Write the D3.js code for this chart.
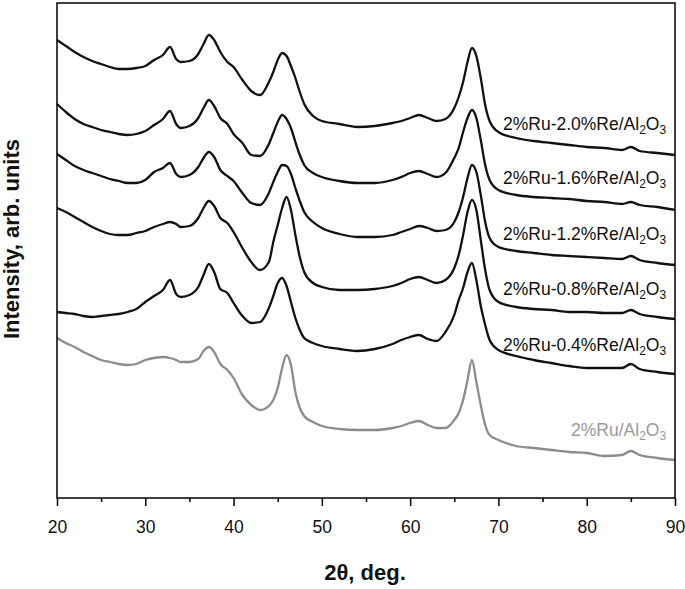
<!DOCTYPE html>
<html>
<head>
<meta charset="utf-8">
<script src="https://cdn.jsdelivr.net/npm/d3@7"></script>
<style>
  body { margin: 0; background: #fff; }
  svg text { font-family: "Liberation Sans", Arial, sans-serif; }
</style>
</head>
<body>
<svg id="chart" width="685" height="589"></svg>
<script>
// 2theta grid (deg.)
var angles = [20,21,22,23,24,25,26,27,28,29,30,31,32,32.8,33.5,34,35,36,36.6,37.2,37.8,38.5,39.3,40,
  41,42,43,44,44.5,45,45.5,46,46.5,47,47.5,48,49,50,52,54,56,58,59,60,61,62,63,64,65,65.5,66,66.5,67,
  67.5,68,68.5,69,70,72,74,76,78,80,82,84,85,86,88,90];

// intensities, arb. units (curves already offset as in the figure)
var ru_re20 = [458,452,446,441,437,434,431,429,429,430,432,438,443,451,439,436,437,444,454,463,458,446,436,431,
  418,407,403,416,426,438,445,442,432,420,406,394,382,377,374,371,372,375,377,380,383,380,377,379,390,401,416,436,450,
  442,420,393,377,366,360,357,355,353,351,350,348,351,347,345,343];
var ru_re16 = [394,386,379,374,371,368,366,364,363,364,367,373,379,387,374,370,372,380,390,398,392,380,374,364,
  355,343,342,354,365,376,383,379,370,356,343,333,325,321,317,315,315,318,321,325,327,324,321,325,340,350,366,380,388,
  380,358,333,318,308,303,301,300,299,297,296,294,296,293,291,288];
var ru_re12 = [344,338,332,328,325,322,319,317,315,315,318,326,330,335,324,321,323,331,340,346,341,328,322,317,
  305,295,293,305,316,326,333,332,324,310,297,286,276,270,264,261,261,263,266,269,272,270,267,268,276,286,301,320,333,
  326,303,276,260,251,247,245,243,242,241,240,239,242,238,235,233];
var ru_re08 = [290,286,281,276,271,267,264,263,263,265,267,271,274,276,274,271,272,280,290,297,292,280,275,266,
  250,236,228,236,256,273,290,301,288,263,241,226,215,211,208,208,209,212,215,219,221,218,215,218,230,243,263,286,298,
  288,258,228,208,196,191,189,188,186,186,185,185,188,184,181,179];
var ru_re04 = [186,185,184,182,181,182,183,184,186,189,196,202,208,218,204,201,203,211,223,234,226,209,205,195,
  182,175,176,190,202,215,220,212,196,180,168,160,155,152,149,147,149,154,158,161,163,159,157,166,183,198,210,226,235,
  218,192,173,158,148,142,138,135,132,130,130,130,134,129,126,124];
var ru_only = [160,155,151,146,142,138,136,134,133,134,138,140,141,140,138,136,136,139,147,151,146,134,128,120,
  103,93,88,92,98,110,130,143,133,106,90,82,76,72,69,68,68,70,72,75,77,73,70,70,78,85,98,118,138,
  116,93,73,63,58,52,50,48,46,45,42,43,47,43,40,38];

var sampleNames = ["2%Ru-2.0%Re/Al2O3","2%Ru-1.6%Re/Al2O3","2%Ru-1.2%Re/Al2O3",
  "2%Ru-0.8%Re/Al2O3","2%Ru-0.4%Re/Al2O3","2%Ru/Al2O3"];
var xMajorTicks = [20,30,40,50,60,70,80,90];
var xMinorTicks = [25,35,45,55,65,75,85];

var series = [ru_re20, ru_re16, ru_re12, ru_re08, ru_re04, ru_only];

var svg = d3.select("#chart"),
    margin = {left:57, right:10, top:3, bottom:91},
    width = +svg.attr("width"),
    height = +svg.attr("height");

var x = d3.scaleLinear().domain([20,90]).range([margin.left, width - margin.right]);
var y = d3.scaleLinear().domain([0,495]).range([height - margin.bottom, margin.top]);

var line = d3.line()
    .x(function(d){ return x(d[0]); })
    .y(function(d){ return y(d[1]); })
    .curve(d3.curveMonotoneX);

// curves
series.forEach(function(vals, i){
  var pts = angles.map(function(a, k){ return [a, vals[k]]; });
  svg.append("path")
    .datum(pts)
    .attr("d", line)
    .attr("fill", "none")
    .attr("stroke", i == 5 ? "#8c8c8c" : "#111")
    .attr("stroke-width", 2.3)
    .attr("stroke-linejoin", "round");
});

// sample labels, sat just above each curve's tail
var k80 = angles.indexOf(80);
series.forEach(function(vals, i){
  var name = sampleNames[i];
  var t = svg.append("text")
    .attr("x", x(89))
    .attr("y", y(vals[k80]) - 17)
    .attr("text-anchor", "end")
    .attr("font-size", "17.5px")
    .attr("fill", i == 5 ? "#9a9a9a" : "#111");
  t.append("tspan").text(name.replace("Al2O3", "Al"));
  t.append("tspan").attr("dy", 4).attr("font-size", "12px").text("2");
  t.append("tspan").attr("dy", -4).text("O");
  t.append("tspan").attr("dy", 4).attr("font-size", "12px").text("3");
});

// frame
svg.append("rect")
  .attr("x", margin.left)
  .attr("y", margin.top)
  .attr("width", width - margin.right - margin.left)
  .attr("height", height - margin.bottom - margin.top)
  .attr("fill", "none")
  .attr("stroke", "#000")
  .attr("stroke-width", 1.5);

// x axis
var xAxis = d3.axisBottom(x).tickValues(xMajorTicks).tickSize(8).tickFormat(d3.format("d"));
var xMinor = d3.axisBottom(x).tickValues(xMinorTicks).tickSize(4).tickFormat("");

var gx = svg.append("g")
  .attr("transform", "translate(0," + (height - margin.bottom) + ")")
  .call(xAxis);
gx.select(".domain").remove();
gx.selectAll("line").attr("stroke", "#000").attr("stroke-width", 1.5);
gx.selectAll("text")
  .attr("y", 23)
  .attr("fill", "#111")
  .attr("font-size", "17.5px")
  .attr("font-family", "Liberation Sans, Arial, sans-serif");

var gm = svg.append("g")
  .attr("transform", "translate(0," + (height - margin.bottom) + ")")
  .call(xMinor);
gm.select(".domain").remove();
gm.selectAll("line").attr("stroke", "#000").attr("stroke-width", 1.5);

// axis titles
svg.append("text")
  .attr("x", 365)
  .attr("y", 580)
  .attr("text-anchor", "middle")
  .attr("font-size", "22px")
  .attr("font-weight", "bold")
  .attr("fill", "#111")
  .text("2\u03b8, deg.");

svg.append("text")
  .attr("transform", "translate(19,239) rotate(-90)")
  .attr("text-anchor", "middle")
  .attr("font-size", "22px")
  .attr("font-weight", "bold")
  .attr("fill", "#111")
  .text("Intensity, arb. units");
</script>
</body>
</html>
